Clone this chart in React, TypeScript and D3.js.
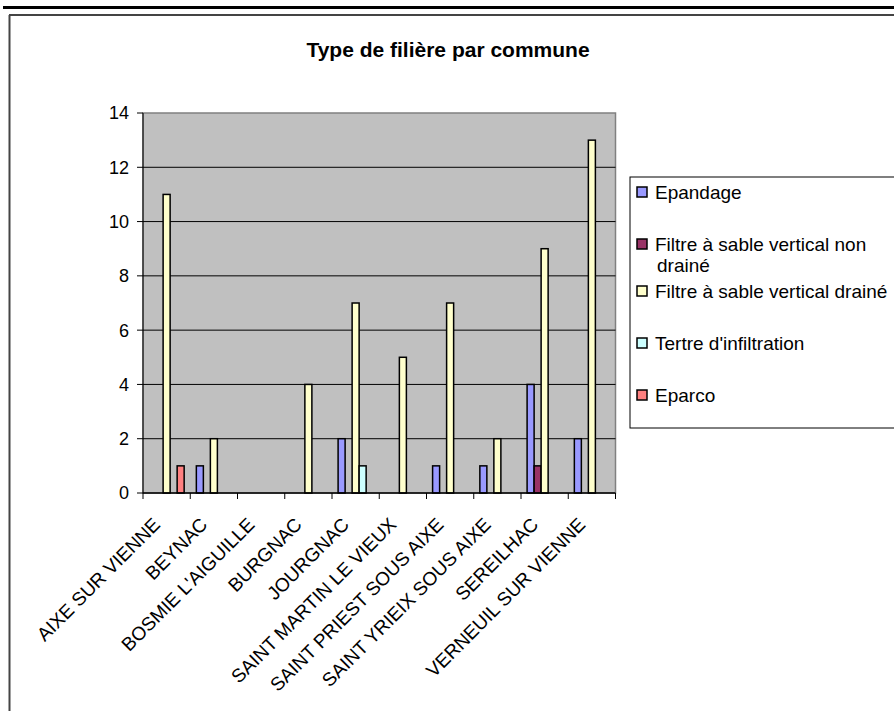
import React from 'react';
import * as d3 from 'd3';

const communes = [
  'AIXE SUR VIENNE',
  'BEYNAC',
  "BOSMIE L'AIGUILLE",
  'BURGNAC',
  'JOURGNAC',
  'SAINT MARTIN LE VIEUX',
  'SAINT PRIEST SOUS AIXE',
  'SAINT YRIEIX SOUS AIXE',
  'SEREILHAC',
  'VERNEUIL SUR VIENNE',
];

const seriesNames = [
  'Epandage',
  'Filtre à sable vertical non drainé',
  'Filtre à sable vertical drainé',
  "Tertre d'infiltration",
  'Eparco',
];

// one array per series, in commune order
const epandage = [0, 1, 0, 0, 2, 0, 1, 1, 4, 2];
const filtreNonDraine = [0, 0, 0, 0, 0, 0, 0, 0, 1, 0];
const filtreDraine = [11, 2, 0, 4, 7, 5, 7, 2, 9, 13];
const tertre = [0, 0, 0, 0, 1, 0, 0, 0, 0, 0];
const eparco = [1, 0, 0, 0, 0, 0, 0, 0, 0, 0];

const yTicks = [0, 2, 4, 6, 8, 10, 12, 14];

const colors = ['#9999FF', '#993366', '#FFFFCC', '#CCFFFF', '#FF8080'];

const values = [epandage, filtreNonDraine, filtreDraine, tertre, eparco];

// legend labels, split on lines the way Excel wrapped them
const legendLines = [
  ['Epandage'],
  ['Filtre à sable vertical non', 'drainé'],
  ['Filtre à sable vertical drainé'],
  ["Tertre d'infiltration"],
  ['Eparco'],
];

const W = 894;
const H = 711;
const plot = { left: 143, top: 113, right: 615.5, bottom: 493 };
const font = '"Liberation Sans", Arial, sans-serif';

export default function App() {
  const x = d3.scaleBand<string>().domain(communes).range([plot.left, plot.right]);
  const xs = d3
    .scaleBand<string>()
    .domain(seriesNames)
    .range([0, x.bandwidth()])
    .paddingInner(0)
    .paddingOuter(0.87);
  const y = d3.scaleLinear().domain([0, 14]).range([plot.bottom, plot.top]);

  const bars = seriesNames.flatMap((s, si) =>
    communes.map((c, ci) => ({ s, si, c, v: values[si][ci] }))
  ).filter(d => d.v > 0);

  const boundaries = communes.map(c => x(c)!).concat([plot.right]);

  const legendY = [192, 244, 291, 343, 395];

  return (
    <svg
      width={W}
      height={H}
      style={{ position: 'absolute', left: 0, top: 0, background: '#fff' }}
      fontFamily={font}
    >
      {/* page rule and chart frame */}
      <rect x={3} y={6} width={W} height={3} fill="#000" />
      <line x1={9} x2={W} y1={15} y2={15} stroke="#444" strokeWidth={2} />
      <line x1={9.5} x2={9.5} y1={15} y2={H} stroke="#444" strokeWidth={2} />

      <text x={448} y={57} textAnchor="middle" fontSize={21} fontWeight="bold">
        Type de filière par commune
      </text>

      {/* plot area */}
      <rect
        x={plot.left}
        y={plot.top}
        width={plot.right - plot.left}
        height={plot.bottom - plot.top}
        fill="#C0C0C0"
        stroke="#808080"
        strokeWidth={1.5}
      />
      {yTicks.slice(1, -1).map(t => (
        <line key={t} x1={plot.left} x2={plot.right} y1={y(t)} y2={y(t)} stroke="#000" />
      ))}

      {bars.map(d => (
        <rect
          key={d.s + d.c}
          x={x(d.c)! + xs(d.s)!}
          y={y(d.v)}
          width={xs.bandwidth()}
          height={y(0) - y(d.v)}
          fill={colors[d.si]}
          stroke="#000"
          strokeWidth={1.5}
        />
      ))}

      {/* axes */}
      <line x1={plot.left} x2={plot.left} y1={plot.top} y2={plot.bottom} stroke="#000" />
      <line x1={plot.left} x2={plot.right} y1={plot.bottom} y2={plot.bottom} stroke="#000" strokeWidth={1.5} />
      {yTicks.map(t => (
        <g key={t}>
          <line x1={plot.left - 6} x2={plot.left} y1={y(t)} y2={y(t)} stroke="#000" />
          <text x={129} y={y(t)} dy="0.36em" textAnchor="end" fontSize={18}>
            {t}
          </text>
        </g>
      ))}
      {boundaries.map((b, i) => (
        <line key={i} x1={b} x2={b} y1={plot.bottom} y2={plot.bottom + 6} stroke="#000" />
      ))}
      {communes.map(c => (
        <text
          key={c}
          transform={`translate(${x(c)! + x.bandwidth() / 2 - 10},521) rotate(-45)`}
          textAnchor="end"
          dy="0.35em"
          fontSize={19}
        >
          {c}
        </text>
      ))}

      {/* legend */}
      <rect x={630} y={177} width={W} height={251} fill="#fff" stroke="#000" />
      {seriesNames.map((s, i) => (
        <g key={s}>
          <rect
            x={637}
            y={legendY[i] - 5}
            width={10}
            height={10}
            fill={colors[i]}
            stroke="#000"
            strokeWidth={1.5}
          />
          <text x={655} y={legendY[i]} fontSize={19}>
            {legendLines[i].map((l, li) => (
              <tspan key={li} x={li === 0 ? 655 : 657} dy={li === 0 ? '0.36em' : 21}>
                {l}
              </tspan>
            ))}
          </text>
        </g>
      ))}
    </svg>
  );
}
